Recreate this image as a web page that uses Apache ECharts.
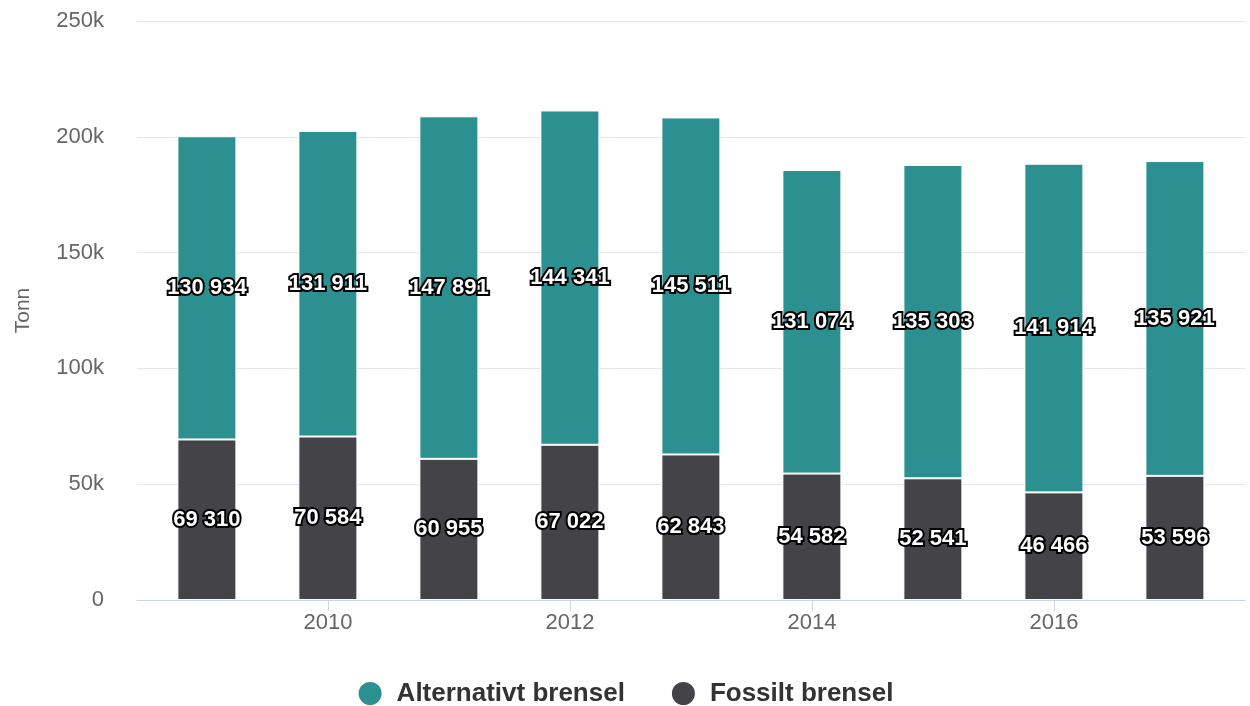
<!DOCTYPE html>
<html><head><meta charset="utf-8">
<script src="https://cdn.jsdelivr.net/npm/echarts@6/dist/echarts.min.js"></script>
<style>html,body{margin:0;padding:0;background:#fff}#c{width:1250px;height:706px}</style>
</head><body><div id="c"></div>
<script>
const years = ['2009', '2010', '2011', '2012', '2013', '2014', '2015', '2016', '2017'];
const fossil = [69310, 70584, 60955, 67022, 62843, 54582, 52541, 46466, 53596];
const alternative = [130934, 131911, 147891, 144341, 145511, 131074, 135303, 141914, 135921];
const xTickYears = [2010, 2012, 2014, 2016];

function fmt(v){ return String(v).replace(/\B(?=(\d{3})+(?!\d))/g, ' '); }
const labelStyle = {
  show: true, position: 'inside',
  formatter: p => fmt(p.value),
  color: '#fff', fontFamily: 'Liberation Sans, Arial, sans-serif',
  fontWeight: 'bold', fontSize: 22,
  textBorderColor: '#000', textBorderWidth: 4
};
const chart = echarts.init(document.getElementById('c'), null, {renderer: 'canvas'});
chart.setOption({
  animation: false,
  textStyle: {fontFamily: 'Liberation Sans, Arial, sans-serif'},
  grid: [
    {left: 137, right: 5, top: 21, bottom: 106, containLabel: false},
    {left: 146.4, right: 14.6, top: 21, bottom: 106, containLabel: false}
  ],
  legend: {
    bottom: -6, left: 'center', icon: 'circle', itemWidth: 25, itemHeight: 25, itemGap: 45,
    textStyle: {fontSize: 26, fontWeight: 'bold', color: '#333', padding: [0, 0, 0, 9]},
    data: ['Alternativt brensel', 'Fossilt brensel']
  },
  xAxis: [
    {
      gridIndex: 0, type: 'value', min: 2008.422, max: 2017.578,
      splitLine: {show: false},
      axisLine: {show: true, lineStyle: {color: '#ccd6eb', width: 1}},
      axisTick: {show: true, customValues: xTickYears, length: 11, lineStyle: {color: '#ccd6eb'}},
      axisLabel: {customValues: xTickYears, color: '#666', fontSize: 22, margin: 12, formatter: v => String(v)}
    },
    {
      gridIndex: 1, type: 'category', data: years,
      axisLine: {show: false}, axisTick: {show: false}, axisLabel: {show: false}, splitLine: {show: false}
    }
  ],
  yAxis: [
    {
      gridIndex: 0, type: 'value', min: 0, max: 250000, interval: 50000,
      name: 'Tonn', nameLocation: 'middle', nameGap: 103,
      nameTextStyle: {color: '#666', fontSize: 21},
      axisLine: {show: false}, axisTick: {show: false},
      splitLine: {lineStyle: {color: '#e6e6e6', width: 1}},
      axisLabel: {color: '#666', fontSize: 22, margin: 33, formatter: v => v === 0 ? '0' : (v/1000) + 'k'}
    },
    {
      gridIndex: 1, type: 'value', min: 0, max: 250000,
      axisLine: {show: false}, axisTick: {show: false}, axisLabel: {show: false}, splitLine: {show: false}
    }
  ],
  series: [
    {
      name: 'Fossilt brensel', type: 'bar', stack: 'a', barWidth: 59,
      xAxisIndex: 1, yAxisIndex: 1,
      itemStyle: {color: '#434348', borderColor: '#fff', borderWidth: 1},
      label: labelStyle,
      data: fossil
    },
    {
      name: 'Alternativt brensel', type: 'bar', stack: 'a', barWidth: 59,
      xAxisIndex: 1, yAxisIndex: 1,
      itemStyle: {color: '#2b908f', borderColor: '#fff', borderWidth: 1},
      label: labelStyle,
      data: alternative
    }
  ]
});
</script></body></html>
